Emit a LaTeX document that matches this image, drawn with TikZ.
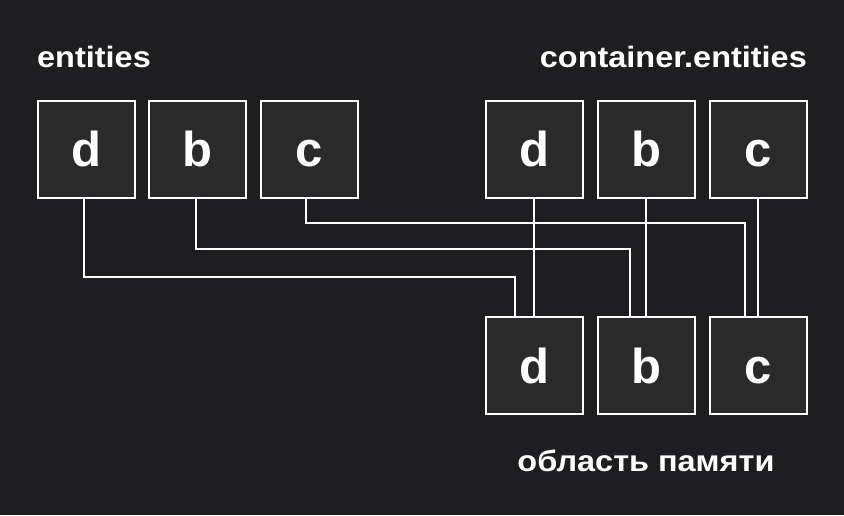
\documentclass[tikz,border=0pt]{standalone}
\usepackage{fontspec}
\setmainfont{Liberation Sans}
\newfontfamily\lblfont[FakeStretch=1.1]{Liberation Sans}
\definecolor{bg}{HTML}{1E1E20}
\definecolor{boxfill}{HTML}{2A2A2A}
\begin{document}
\begin{tikzpicture}[x=1pt,y=-1pt,
  cell/.style={draw=white,line width=2pt,fill=boxfill,minimum width=97pt,minimum height=97pt,inner sep=0pt,text height=35pt,text depth=0pt,text=white,font=\fontsize{49}{49}\selectfont\bfseries},
  wire/.style={draw=white,line width=2pt},
  lbl/.style={text=white,inner sep=0pt,font=\lblfont\fontsize{29.5}{30}\selectfont\bfseries}]
\fill[bg] (0,0) rectangle (844,515);
\useasboundingbox (0,0) rectangle (844,515);
% left row
\node[cell] (ld) at (86,149) {d};
\node[cell] (lb) at (197.5,149) {b};
\node[cell] (lc) at (309.5,149) {c};
% top right row
\node[cell] (td) at (534,149) {d};
\node[cell] (tb) at (646,149) {b};
\node[cell] (tc) at (758,149) {c};
% bottom row
\node[cell] (md) at (534,365.5) {d};
\node[cell] (mb) at (646,365.5) {b};
\node[cell] (mc) at (758,365.5) {c};
% labels
\node[lbl,anchor=base west] (l1) at (37,67) {entities};
\node[lbl,anchor=base east] (l2) at (807,67) {container.entities};
\node[lbl,anchor=base] (l3) at (646,471) {область памяти};
% wires
\draw[wire] (td.south) -- (md.north);
\draw[wire] (tb.south) -- (mb.north);
\draw[wire] (tc.south) -- (mc.north);
\draw[wire] (ld.south -| 84,0) |- (515,276.5) -- (md.north -| 515,0);
\draw[wire] (lb.south -| 196,0) |- (630,249) -- (mb.north -| 630,0);
\draw[wire] (lc.south -| 306,0) |- (745,222.5) -- (mc.north -| 745,0);
\end{tikzpicture}
\end{document}
